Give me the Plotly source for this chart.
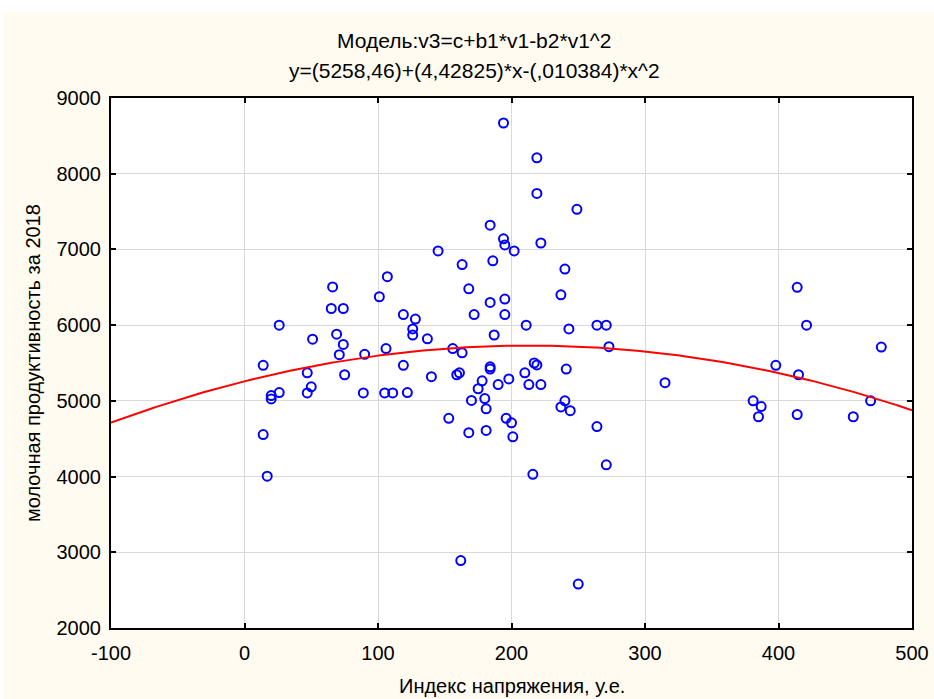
import numpy as np
import plotly.graph_objects as go

# Scatter data (index of strain, milk yield 2018)
x_vals = [14, 26, 17, 14, 20, 20, 26,
          66, 101, 107, 65, 74, 51, 69, 74, 71, 90, 106, 47, 75, 50, 47, 89, 105, 111, 122,
          119, 128, 126, 126, 137, 119, 140, 145, 153, 156, 159, 161, 162, 163, 163,
          168, 168, 170, 172, 175, 178, 180, 181, 181, 184, 184, 184, 184, 186, 187, 190,
          194, 194, 195, 195, 195, 196, 198, 200, 201, 202, 210, 211, 213, 216, 217, 219,
          219, 219, 222, 222, 237, 237, 240, 240, 241, 243, 244, 249, 250, 264, 264, 271,
          271, 273, 315, 381, 385, 387, 398, 414, 414, 415, 421, 456, 469, 477]
y_vals = [5470, 6000, 4005, 4555, 5070, 5025, 5110,
          6505, 6375, 6640, 6220, 6220, 5815, 5880, 5745, 5610, 5615, 5690, 5370, 5345, 5185, 5105, 5105, 5105, 5105, 5110,
          6140, 6080, 5950, 5870, 5820, 5470, 5320, 6980, 4770, 5690, 5345, 5370, 2890, 6800, 5635,
          6480, 4580, 5005, 6140, 5160, 5265, 5030, 4895, 4610, 7320, 6300, 5450, 5420, 6850, 5870, 5215,
          8670, 7140, 7060, 6345, 6140, 4770, 5290, 4710, 4525, 6980, 5370, 6000, 5215, 4030, 5500, 8210,
          7740, 5475, 7085, 5215, 6400, 4920, 6740, 5000, 5420, 5950, 4870, 7530, 2580, 6000, 4660, 6000,
          4155, 5715, 5240, 5000, 4790, 4925, 5470, 6500, 4820, 5345, 6000, 4790, 5000, 5710]

# Model coefficients from the title: y = c + b1*x - b2*x^2
c_coef = 5258.46
b1_coef = 4.42825
b2_coef = 0.010384

x_ticks = [-100, 0, 100, 200, 300, 400, 500]
x_labels = ["-100", "0", "100", "200", "300", "400", "500"]
y_ticks = [2000, 3000, 4000, 5000, 6000, 7000, 8000, 9000]

xf = np.linspace(-100, 500, 301)
yf = c_coef + b1_coef * xf - b2_coef * xf ** 2

font_family = "Liberation Sans, Arial, sans-serif"
cream = "#FFFBF0"
FS = 20
FT = 21

W, H = 934, 699
L, R, T, B = 111, 22, 98, 71
PW, PH = W - L - R, H - T - B

fig = go.Figure()
fig.add_trace(go.Scatter(
    x=x_vals, y=y_vals, mode="markers",
    marker=dict(symbol="circle-open", size=9, color="#0000FF",
                line=dict(width=2, color="#0000FF")),
    showlegend=False, hoverinfo="x+y"))
fig.add_trace(go.Scatter(
    x=xf, y=yf, mode="lines", line=dict(color="#FF0000", width=2),
    showlegend=False, hoverinfo="skip"))

axis_common = dict(
    showline=True, linecolor="black", linewidth=2, mirror="ticks",
    ticks="inside", ticklen=5, tickwidth=2, tickcolor="black",
    showgrid=True, gridcolor="#D9D9D9", gridwidth=1, zeroline=False,
    automargin=False,
    tickfont=dict(family=font_family, size=FS, color="black"),
)

def py(px):
    return 1 + (T - px) / PH

def pxp(px):
    return (px - L) / PW

fig.update_layout(
    width=W, height=H,
    margin=dict(l=L, r=R, t=T, b=B, autoexpand=False),
    paper_bgcolor=cream, plot_bgcolor="white",
    font=dict(family=font_family, color="black"),
    xaxis=dict(range=[-100, 500], tickvals=x_ticks, ticktext=x_labels,
               ticklabelstandoff=6, **axis_common),
    yaxis=dict(range=[2000, 9000], tickvals=y_ticks, ticklabelstandoff=4, **axis_common),
    annotations=[
        dict(text="Модель:v3=c+b1*v1-b2*v1^2", x=pxp(474), y=py(40),
             xref="paper", yref="paper", showarrow=False, yanchor="middle",
             font=dict(size=FT, family=font_family)),
        dict(text="y=(5258,46)+(4,42825)*x-(,010384)*x^2", x=pxp(474), y=py(71),
             xref="paper", yref="paper", showarrow=False, yanchor="middle",
             font=dict(size=FT, family=font_family)),
        dict(text="Индекс напряжения, у.е.", x=pxp(512), y=py(686),
             xref="paper", yref="paper", showarrow=False, yanchor="middle",
             font=dict(size=FS, family=font_family)),
        dict(text="молочная продуктивность за 2018", x=pxp(33), y=py(363),
             xref="paper", yref="paper", showarrow=False, xanchor="center",
             yanchor="middle", textangle=-90,
             font=dict(size=FS, family=font_family)),
    ],
    shapes=[
        dict(type="rect", xref="paper", yref="paper",
             x0=pxp(0), x1=pxp(W), y0=py(12), y1=py(0),
             fillcolor="white", line=dict(width=0), layer="below"),
        dict(type="rect", xref="paper", yref="paper",
             x0=pxp(0), x1=pxp(4), y0=py(H), y1=py(0),
             fillcolor="white", line=dict(width=0), layer="below"),
    ],
)

fig.write_html("out.html")
